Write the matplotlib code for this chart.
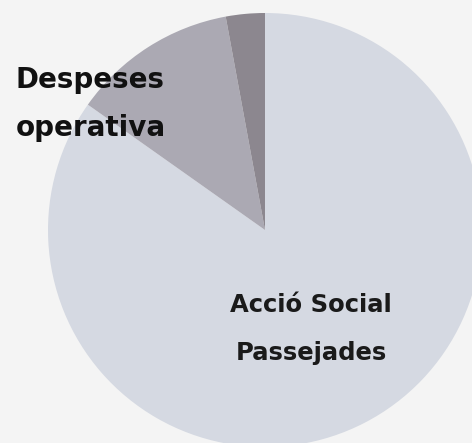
import matplotlib
matplotlib.use("Agg")
import matplotlib.pyplot as plt

# slice shares, clockwise from 12 o'clock
labels = ["Acció Social\nPassejades", "Despeses\noperativa", ""]
shares = [84.8, 12.3, 2.9]
colors = ["#D5D9E2", "#ABA9B3", "#8C878F"]

W, H = 472, 443
fig = plt.figure(figsize=(W / 100, H / 100), dpi=100, facecolor="#F4F4F4")
ax = fig.add_axes([0, 0, 1, 1])
ax.set_facecolor("#F4F4F4")

# pie centre / radius in pixel units
cx, cy, r = 265, H - 230, 217
ax.pie(shares, colors=colors, startangle=90, counterclock=False,
       center=(cx, cy), radius=r, wedgeprops=dict(linewidth=0))

ax.text(311, H - 329, labels[0], ha="center", va="center", fontsize=17.5,
        fontweight="bold", family="DejaVu Sans", color="#1A1A1A", linespacing=2.25)
ax.text(16, H - 104, labels[1], ha="left", va="center", fontsize=20,
        fontweight="bold", family="DejaVu Sans", color="#111111", linespacing=1.9)

ax.set_xlim(0, W)
ax.set_ylim(0, H)
ax.set_aspect("equal")
ax.axis("off")

fig.savefig("out.png", dpi=100, facecolor=fig.get_facecolor())
